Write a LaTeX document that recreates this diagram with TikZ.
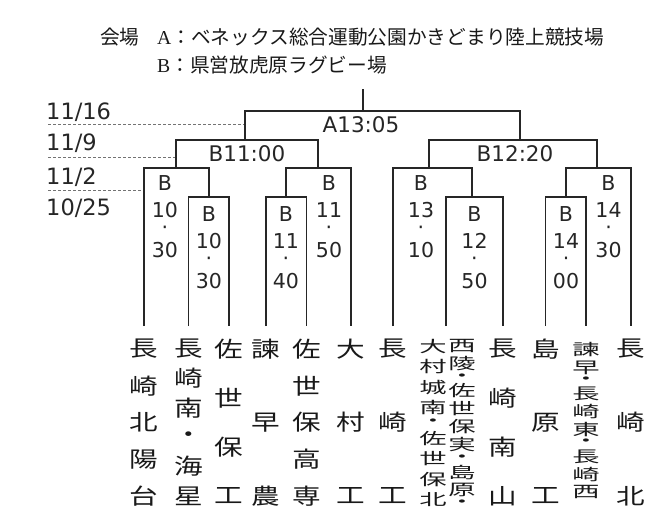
\documentclass[tikz,border=0pt]{standalone}
\usepackage{fontspec}
\usepackage{graphicx}
\setmainfont{DejaVu Sans}
\newfontfamily\cjk{Noto Sans CJK JP}
\newfontfamily\cjkwide[FakeStretch=1.3]{Noto Sans CJK JP}
\newfontfamily\hdserif{Liberation Serif}

% time slot written top to bottom: B / hour / dot / minute
\newcommand\slotlbl[5]{%
  \node[lbl] (#1b) at (#2,#3) {B};
  \node[lbl] (#1h) at (#2,{#3+27}) {#4};
  \node[lbl] (#1d) at (#2,{#3+47}) {·};
  \node[lbl] (#1m) at (#2,{#3+67}) {#5};}
% team name spread over the whole column
\newcommand\spreadcol[4]{%
  \foreach \c [count=\i from 0] in {#4}
    \node[team] (#1-\i) at (#2,{349+\i*147/(#3-1)}) {\c};}
% long team name packed tight, the dot takes half a cell
\newcommand\packcol[5]{%
  \xdef\cury{#3}%
  \foreach \c [count=\i] in {#5}{%
    \ifnum\strcmp{\c}{・}=0 \def\w{0.5}\else\def\w{1}\fi
    \pgfmathsetmacro\ymid{\cury+\w*#4/2}%
    \node[packed] (#1-\i) at (#2,\ymid) {\scalebox{1}[0.75]{\c}};
    \pgfmathsetmacro\ynext{\cury+\w*#4}%
    \xdef\cury{\ynext}}}

\begin{document}
\begin{tikzpicture}[x=1pt,y=-1pt,
  bracket/.style={line width=1.2pt,black!85},
  dateline/.style={densely dashed,line width=0.6pt,black!55},
  lbl/.style={inner sep=0pt,black!85,font=\fontsize{20.5}{21}\selectfont},
  timelbl/.style={inner sep=0pt,black!85,font=\fontsize{21.5}{22}\selectfont},
  datelbl/.style={inner sep=0pt,anchor=west,black!85,font=\fontsize{22.5}{23}\selectfont},
  hdr/.style={inner sep=0pt,anchor=west,black!90,font=\cjk\fontsize{19.7}{20}\selectfont},
  team/.style={inner sep=0pt,black!90,font=\cjkwide\fontsize{22}{22}\selectfont},
  packed/.style={inner sep=0pt,black!90,font=\cjkwide\fontsize{21}{21}\selectfont}]
\useasboundingbox (0,0) rectangle (658,518);

% venues
\node[hdr] (venue) at (100,37) {会場};
\node[hdr] (siteA) at (157,37) {{\hdserif A}：ベネックス総合運動公園かきどまり陸上競技場};
\node[hdr] (siteB) at (157,65) {{\hdserif B}：県営放虎原ラグビー場};

% dates
\node[datelbl] (d1) at (46,112) {11/16};
\node[datelbl] (d2) at (46,143) {11/9};
\node[datelbl] (d3) at (46,177) {11/2};
\node[datelbl] (d4) at (46,208) {10/25};
\draw[dateline] (48,124.3) -- (245,124.3);
\draw[dateline] (48,157.7) -- (176,157.7);
\draw[dateline] (48,190) -- (141,190);

% team ends
\coordinate (t1) at (144,326);
\coordinate (t2) at (188.7,326);
\coordinate (t3) at (229,326);
\coordinate (t4) at (266,326);
\coordinate (t5) at (306.7,326);
\coordinate (t6) at (351,326);
\coordinate (t7) at (393,326);
\coordinate (t8) at (446,326);
\coordinate (t9) at (503,326);
\coordinate (t10) at (545.7,326);
\coordinate (t11) at (586,326);
\coordinate (t12) at (631,326);
% match points
\coordinate (m1) at (209,197);
\coordinate (m2) at (286,197);
\coordinate (m3) at (472,197);
\coordinate (m4) at (566,197);
\coordinate (q1) at (176,168);
\coordinate (q2) at (318,168);
\coordinate (q3) at (429,168);
\coordinate (q4) at (597,168);
\coordinate (s1) at (245,140);
\coordinate (s2) at (520,140);
\coordinate (f) at (363,111);
\coordinate (top) at (363,89);

\draw[bracket] (t2) |- (m1) -| (t3);
\draw[bracket] (t4) |- (m2) -| (t5);
\draw[bracket] (t8) |- (m3) -| (t9);
\draw[bracket] (t10) |- (m4) -| (t11);
\draw[bracket] (t1) |- (q1) -| (m1);
\draw[bracket] (m2) |- (q2) -| (t6);
\draw[bracket] (t7) |- (q3) -| (m3);
\draw[bracket] (m4) |- (q4) -| (t12);
\draw[bracket] (q1) |- (s1) -| (q2);
\draw[bracket] (q3) |- (s2) -| (q4);
\draw[bracket] (s1) |- (f) -| (s2);
\draw[bracket] (f) -- (top);

% kick-off times
\node[timelbl] (final) at (361,125) {A13:05};
\node[timelbl] (semi1) at (247,154) {B11:00};
\node[timelbl] (semi2) at (515,154) {B12:20};
\slotlbl{qa}{165}{183}{10}{30}
\slotlbl{ra}{208.8}{214}{10}{30}
\slotlbl{rb}{286}{214}{11}{40}
\slotlbl{qb}{329}{183}{11}{50}
\slotlbl{qc}{421}{183}{13}{10}
\slotlbl{rc}{474.5}{214}{12}{50}
\slotlbl{rd}{566}{214}{14}{00}
\slotlbl{qd}{608.5}{183}{14}{30}

% teams
\spreadcol{c1}{144}{5}{長,崎,北,陽,台}
\spreadcol{c2}{188.7}{6}{長,崎,南,・,海,星}
\spreadcol{c3}{229}{4}{佐,世,保,工}
\spreadcol{c4}{266}{3}{諫,早,農}
\spreadcol{c5}{306.7}{5}{佐,世,保,高,専}
\spreadcol{c6}{351}{3}{大,村,工}
\spreadcol{c7}{393}{3}{長,崎,工}
\packcol{c8a}{433}{336}{20.5}{大,村,城,南,・,佐,世,保,北}
\packcol{c8b}{462}{337}{18}{西,陵,・,佐,世,保,実,・,島,原,・}
\spreadcol{c9}{503}{4}{長,崎,南,山}
\spreadcol{c10}{545.7}{3}{島,原,工}
\packcol{c11}{586}{341}{17.75}{諫,早,・,長,崎,東,・,長,崎,西}
\spreadcol{c12}{631}{3}{長,崎,北}
\end{tikzpicture}
\end{document}
